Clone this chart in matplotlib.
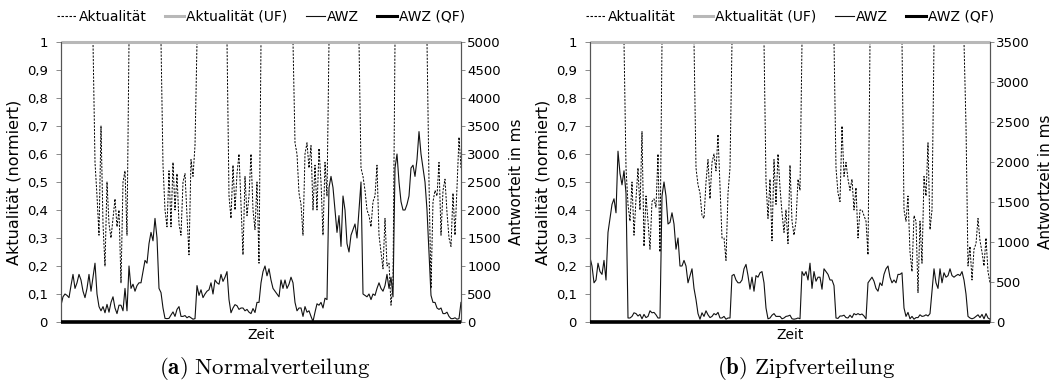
import matplotlib
matplotlib.use("Agg")
import matplotlib.pyplot as plt
from matplotlib.lines import Line2D
import numpy as np

plt.rcParams["font.family"] = "DejaVu Sans"
plt.rcParams["mathtext.fontset"] = "cm"

# (a) Normalverteilung: Aktualitaet (normiert) und Antwortzeit in ms je Zeitschritt
akt_normal = [
    1.0, 1.0, 1.0, 1.0, 1.0, 1.0, 1.0, 1.0, 1.0, 1.0, 1.0, 1.0, 1.0, 1.0, 1.0, 1.0, 1.0,
    0.57, 0.45, 0.31, 0.70, 0.35, 0.20, 0.50, 0.35, 0.30, 0.37, 0.44, 0.34, 0.40, 0.14, 0.50, 0.54, 0.31,
    1.0, 1.0, 1.0, 1.0, 1.0, 1.0, 1.0, 1.0, 1.0, 1.0, 1.0, 1.0, 1.0, 1.0, 1.0, 1.0, 1.0,
    0.56, 0.40, 0.34, 0.54, 0.34, 0.57, 0.40, 0.53, 0.35, 0.31, 0.50, 0.53, 0.38, 0.24, 0.58, 0.52, 0.63,
    1.0, 1.0, 1.0, 1.0, 1.0, 1.0, 1.0, 1.0, 1.0, 1.0, 1.0, 1.0, 1.0, 1.0, 1.0, 1.0,
    0.45, 0.37, 0.56, 0.40, 0.53, 0.60, 0.42, 0.24, 0.52, 0.38, 0.45, 0.60, 0.40, 0.33, 0.50, 0.21,
    1.0, 1.0, 1.0, 1.0, 1.0, 1.0, 1.0, 1.0, 1.0, 1.0, 1.0, 1.0, 1.0, 1.0, 1.0, 1.0, 1.0,
    0.64, 0.60, 0.46, 0.42, 0.31, 0.60, 0.64, 0.55, 0.63, 0.40, 0.56, 0.40, 0.62, 0.50, 0.31, 0.57, 0.45,
    1.0, 1.0, 1.0, 1.0, 1.0, 1.0, 1.0, 1.0, 1.0, 1.0, 1.0, 1.0, 1.0, 1.0, 1.0, 1.0,
    0.55, 0.52, 0.47, 0.40, 0.38, 0.34, 0.43, 0.45, 0.56, 0.31, 0.25, 0.19, 0.37, 0.20, 0.21, 0.06, 0.14,
    1.0, 1.0, 1.0, 1.0, 1.0, 1.0, 1.0, 1.0, 1.0, 1.0, 1.0, 1.0, 1.0, 1.0, 1.0, 1.0, 1.0,
    0.50, 0.12, 0.43, 0.47, 0.45, 0.57, 0.31, 0.47, 0.51, 0.39, 0.30, 0.27, 0.46, 0.31, 0.48, 0.66, 0.55,
]
awz_normal = [
    300, 450, 500, 475, 435, 650, 850, 600, 700, 850, 750, 550, 435, 600, 850, 550, 800,
    1050, 500, 275, 200, 275, 165, 315, 175, 350, 450, 250, 150, 300, 300, 200, 600, 200,
    1000, 600, 675, 550, 650, 700, 700, 900, 1100, 1050, 1400, 1600, 1450, 1850, 1500, 600, 525,
    250, 65, 60, 65, 125, 180, 100, 225, 275, 100, 100, 115, 75, 100, 75, 50, 60,
    650, 475, 575, 435, 500, 550, 575, 700, 500, 750, 700, 675, 850, 725, 800, 900,
    400, 165, 250, 310, 290, 225, 250, 250, 200, 225, 175, 150, 240, 170, 350, 350,
    700, 900, 1000, 825, 950, 750, 600, 550, 500, 450, 750, 600, 750, 600, 675, 800, 700,
    350, 200, 250, 250, 100, 275, 175, 200, 100, 10, 175, 325, 300, 350, 250, 425, 400,
    2400, 2600, 2400, 2000, 1600, 1900, 1350, 2250, 2000, 1400, 1250, 1550, 1650, 1750, 1500, 2000,
    2500, 500, 475, 450, 500, 400, 500, 475, 600, 700, 600, 550, 650, 850, 600, 800, 450,
    2750, 3000, 2500, 2150, 2000, 2000, 2100, 2250, 2750, 2800, 2600, 2900, 3400, 3000, 2750, 2500, 2000,
    1250, 475, 350, 350, 250, 225, 250, 150, 150, 175, 100, 60, 60, 75, 50, 60, 350,
]

# (b) Zipfverteilung
akt_zipf = [
    1.0, 1.0, 1.0, 1.0, 1.0, 1.0, 1.0, 1.0, 1.0, 1.0, 1.0, 1.0, 1.0, 1.0, 1.0, 1.0, 1.0, 1.0,
    0.55, 0.42, 0.36, 0.50, 0.31, 0.44, 0.55, 0.40, 0.68, 0.27, 0.45, 0.36, 0.26, 0.43, 0.44, 0.41, 0.60, 0.25,
    1.0, 1.0, 1.0, 1.0, 1.0, 1.0, 1.0, 1.0, 1.0, 1.0, 1.0, 1.0, 1.0, 1.0, 1.0, 1.0, 1.0,
    0.55, 0.49, 0.46, 0.38, 0.37, 0.50, 0.58, 0.44, 0.57, 0.60, 0.54, 0.67, 0.48, 0.30, 0.30, 0.22, 0.46, 0.55,
    1.0, 1.0, 1.0, 1.0, 1.0, 1.0, 1.0, 1.0, 1.0, 1.0, 1.0, 1.0, 1.0, 1.0, 1.0, 1.0, 1.0,
    0.50, 0.37, 0.51, 0.29, 0.58, 0.42, 0.60, 0.48, 0.39, 0.32, 0.40, 0.28, 0.56, 0.36, 0.31, 0.36, 0.51, 0.47,
    1.0, 1.0, 1.0, 1.0, 1.0, 1.0, 1.0, 1.0, 1.0, 1.0, 1.0, 1.0, 1.0, 1.0, 1.0, 1.0, 1.0,
    0.55, 0.46, 0.43, 0.70, 0.52, 0.57, 0.51, 0.47, 0.51, 0.40, 0.48, 0.30, 0.40, 0.40, 0.38, 0.36, 0.24,
    1.0, 1.0, 1.0, 1.0, 1.0, 1.0, 1.0, 1.0, 1.0, 1.0, 1.0, 1.0, 1.0, 1.0, 1.0, 1.0, 1.0,
    0.40, 0.36, 0.45, 0.25, 0.18, 0.38, 0.36, 0.105, 0.36, 0.21, 0.52, 0.45, 0.64, 0.33, 0.40,
    1.0, 1.0, 1.0, 1.0, 1.0, 1.0, 1.0, 1.0, 1.0, 1.0, 1.0, 1.0, 1.0, 1.0, 1.0, 1.0,
    0.70, 0.20, 0.27, 0.15, 0.26, 0.28, 0.37, 0.29, 0.25, 0.20, 0.30, 0.18, 0.14,
]
awz_zipf = [
    805, 700, 490, 525, 735, 630, 595, 770, 525, 1120, 1295, 1470, 1540, 1365, 2135, 1855, 1715, 1890, 1610,
    50, 50, 70, 115, 105, 75, 95, 40, 95, 55, 70, 140, 115, 120, 90, 50, 50,
    1575, 1750, 1575, 1225, 1245, 1365, 1225, 910, 1050, 700, 700, 770, 700, 490, 580, 665, 420, 280,
    105, 35, 115, 70, 140, 90, 55, 70, 105, 90, 120, 50, 50, 70, 35, 50, 50,
    580, 595, 525, 490, 490, 525, 665, 720, 580, 410, 560, 385, 580, 560, 615, 630, 490, 175,
    40, 50, 85, 105, 70, 70, 70, 40, 50, 70, 75, 85, 40, 35, 40, 50, 40,
    630, 580, 630, 525, 735, 420, 630, 510, 560, 560, 410, 665, 630, 595, 525, 525, 455,
    50, 45, 75, 75, 85, 55, 50, 85, 55, 105, 90, 105, 90, 100, 75, 40,
    490, 525, 560, 510, 420, 385, 490, 455, 595, 665, 700, 560, 490, 525, 490, 595, 595, 615,
    175, 70, 120, 40, 70, 35, 55, 55, 90, 70, 75, 90, 75, 105,
    385, 665, 490, 420, 665, 490, 615, 560, 580, 665, 580, 560, 580, 595, 580, 630, 525, 350,
    70, 50, 40, 50, 70, 90, 55, 95, 40, 105, 50, 35,
]

# konstante Vergleichsreihen
akt_uf_level = 1.0
awz_qf_level = 0.0

akt_ticks = [0, 0.1, 0.2, 0.3, 0.4, 0.5, 0.6, 0.7, 0.8, 0.9, 1.0]
akt_ticklabels = ["0", "0,1", "0,2", "0,3", "0,4", "0,5", "0,6", "0,7", "0,8", "0,9", "1"]

legend_labels = ["Aktualität", "Aktualität (UF)", "AWZ", "AWZ (QF)"]

DASH = (0, (2.2, 1.4))
UF_GRAY = "#b8b8b8"


def draw_panel(fig, rect, akt, awz, awz_max, right_label, caption, caption_x):
    t = np.arange(len(akt))
    ax = fig.add_axes(rect)
    ax2 = ax.twinx()

    ax.plot(t, akt, color="black", lw=0.7, linestyle=DASH, zorder=2)
    ax.plot([t[0], t[-1]], [akt_uf_level, akt_uf_level], color=UF_GRAY,
            lw=2.2, zorder=5, clip_on=False, solid_capstyle="butt")
    ax2.plot(t, awz, color="#111111", lw=0.8, zorder=2)
    ax2.plot([t[0], t[-1]], [awz_qf_level, awz_qf_level], color="black",
             lw=2.6, zorder=5, clip_on=False, solid_capstyle="butt")

    ax.set_xlim(t[0], t[-1])
    ax.set_ylim(0, 1)
    ax2.set_ylim(0, awz_max)
    ax.set_xticks([])
    ax.set_yticks(akt_ticks)
    ax.set_yticklabels(akt_ticklabels)
    ax2.set_yticks(np.arange(0, awz_max + 1, 500))

    for a in (ax, ax2):
        a.spines["top"].set_visible(False)
        a.spines["bottom"].set_visible(False)
        a.spines["left"].set_color("#555555")
        a.spines["right"].set_color("#555555")
        a.spines["left"].set_linewidth(0.8)
        a.spines["right"].set_linewidth(0.8)
    ax.tick_params(axis="y", direction="out", length=3.5, width=0.6,
                   color="#777777", labelsize=9.5, pad=6)
    ax2.tick_params(axis="y", direction="out", length=3, width=0.6,
                    color="#777777", labelsize=9.5, pad=1.5)

    ax.set_xlabel("Zeit", fontsize=10, labelpad=4)
    ax.set_ylabel("Aktualität (normiert)", fontsize=11.5, labelpad=4)
    ax2.set_ylabel(right_label, fontsize=11, labelpad=6)

    handles = [
        Line2D([], [], color="black", lw=0.8, linestyle=DASH),
        Line2D([], [], color=UF_GRAY, lw=2.2),
        Line2D([], [], color="#111111", lw=0.8),
        Line2D([], [], color="black", lw=2.2),
    ]
    ax2.legend(handles, legend_labels, loc="lower center", bbox_to_anchor=(0.5, 1.045),
               ncol=4, frameon=False, fontsize=10, handlelength=1.4,
               handletextpad=0.15, columnspacing=1.3, borderaxespad=0)

    fig.text(caption_x, 21 / 390, caption, ha="center", va="center", fontsize=16.5)


fig = plt.figure(figsize=(10.54, 3.9), dpi=100)
draw_panel(fig, [61 / 1054, 68 / 390, 400 / 1054, 280 / 390], akt_normal, awz_normal,
           5000, "Antworteit in ms", r"$\mathbf{(a)}\ \mathrm{Normalverteilung}$", 265 / 1054)
draw_panel(fig, [590 / 1054, 68 / 390, 400 / 1054, 280 / 390], akt_zipf, awz_zipf,
           3500, "Antwortzeit in ms", r"$\mathbf{(b)}\ \mathrm{Zipfverteilung}$", 806 / 1054)

fig.savefig("out.png", dpi=100)
